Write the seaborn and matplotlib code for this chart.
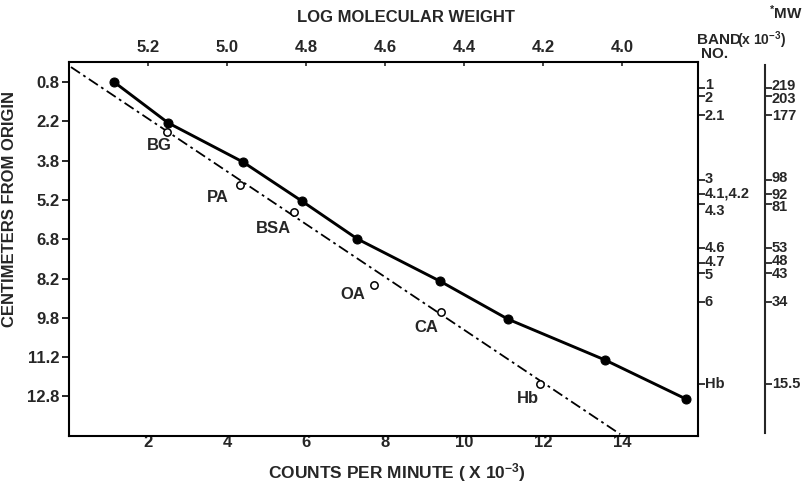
import matplotlib
matplotlib.use("Agg")
import matplotlib.pyplot as plt
import seaborn as sns
import pandas as pd

# ---------------- data ----------------
# filled points (solid line): counts per minute (x10^-3) vs cm from origin
cpm_filled = [1.14, 2.51, 4.40, 5.89, 7.30, 9.39, 11.11, 13.57, 15.62]
cm_filled = [0.80, 2.36, 3.85, 5.34, 6.79, 8.40, 9.85, 11.41, 12.90]

# open points (standards, dash-dot line)
std_names = ["BG", "PA", "BSA", "OA", "CA", "Hb"]
std_cpm = [2.47, 4.33, 5.70, 7.72, 9.42, 11.92]
std_cm = [2.71, 4.73, 5.76, 8.55, 9.58, 12.33]

# fitted standard line end points
fit_x = [0.05, 13.95]
fit_y = [0.23, 14.24]

# left axis ticks
cm_ticks = [0.8, 2.3, 3.8, 5.3, 6.8, 8.3, 9.8, 11.3, 12.8]
cm_labels = ["0.8", "2.2", "3.8", "5.2", "6.8", "8.2", "9.8", "11.2", "12.8"]

# bottom axis ticks
cpm_ticks = [2, 4, 6, 8, 10, 12, 14]

# top axis (log molecular weight)
logmw_ticks = [5.2, 5.0, 4.8, 4.6, 4.4, 4.2, 4.0]
logmw_labels = ["5.2", "5.0", "4.8", "4.6", "4.4", "4.2", "4.0"]

# right axes: band numbers and molecular weights
band_pos = [1.03, 1.33, 2.06, 4.54, 5.07, 5.45, 7.14, 7.71, 8.09, 9.20, 12.33]
band_labels = ["1", "2", "2.1", "3", "4.1,4.2", "4.3", "4.6", "4.7", "5", "6", "Hb"]
mw_labels = ["219", "203", "177", "98", "92", "81", "53", "48", "43", "34", "15.5"]

# ---------------- style ----------------
sns.set_style("white")
plt.rcParams["font.family"] = ["Liberation Sans", "DejaVu Sans"]
plt.rcParams["font.weight"] = "bold"
plt.rcParams["mathtext.fontset"] = "custom"
plt.rcParams["mathtext.rm"] = "Liberation Sans:bold"
plt.rcParams["mathtext.it"] = "Liberation Sans:bold"
plt.rcParams["mathtext.bf"] = "Liberation Sans:bold"

FS = 12
fig = plt.figure(figsize=(8.07, 4.83), dpi=100)
ax = fig.add_axes([0.0855, 0.0973, 0.7794, 0.7743])

df_f = pd.DataFrame({"x": cpm_filled, "y": cm_filled})
df_s = pd.DataFrame({"x": std_cpm, "y": std_cm, "name": std_names})
df_fit = pd.DataFrame({"x": fit_x, "y": fit_y})

sns.lineplot(data=df_fit, x="x", y="y", ax=ax, color="black", linewidth=1.3,
             sort=False, linestyle=(0, (6, 2.2, 1.5, 2.2)))
sns.lineplot(data=df_f, x="x", y="y", ax=ax, color="black", linewidth=2.1,
             sort=False, marker="o", markersize=6.5, markeredgecolor="black",
             markerfacecolor="black")
sns.scatterplot(data=df_s, x="x", y="y", ax=ax, s=28, facecolor="white",
                edgecolor="black", linewidth=1.1, zorder=5)

# labels for standards (offsets in points)
offsets = {"BG": (-5, -10), "PA": (-16, -9), "BSA": (-15, -12),
           "OA": (-15, -7), "CA": (-11, -11), "Hb": (-9, -10)}
for n, x, y in zip(std_names, std_cpm, std_cm):
    dx, dy = offsets[n]
    ax.annotate(n, (x, y), xytext=(dx, dy), textcoords="offset points",
                ha="center", va="center", fontsize=FS, fontweight="bold")

ax.set_xlim(0, 15.92)
ax.set_ylim(14.31, 0.037)
ax.set_xticks(cpm_ticks)
ax.set_xticklabels([str(t) for t in cpm_ticks], fontsize=FS, fontweight="bold")
ax.set_yticks(cm_ticks)
ax.set_yticklabels(cm_labels, fontsize=FS, fontweight="bold")
ax.tick_params(axis="x", length=0, pad=-1)
ax.tick_params(axis="y", direction="out", length=5, width=1.4, pad=2, left=True)
ax.set_xlabel(r"COUNTS PER MINUTE ( X 10$^{-3}$)", fontsize=12.5, fontweight="bold")
ax.xaxis.set_label_coords((397 - 69) / 629, -0.068)
ax.set_ylabel("CENTIMETERS FROM ORIGIN", fontsize=FS, fontweight="bold")
ax.yaxis.set_label_coords(-0.083, 0.607)
for s in ax.spines.values():
    s.set_visible(True)
    s.set_linewidth(1.5)
    s.set_color("black")

# top axis: log molecular weight
top = ax.secondary_xaxis("top", functions=(lambda x: 5.4 - x / 10.0,
                                           lambda m: (5.4 - m) * 10.0))
top.set_xticks(logmw_ticks)
top.set_xticklabels(logmw_labels, fontsize=FS, fontweight="bold")
top.tick_params(direction="in", length=3, width=1.2, pad=5)
top.spines["top"].set_visible(False)

# right axis: band number (tick marks; labels placed with small nudges)
band = ax.secondary_yaxis("right")
band.set_yticks(band_pos)
band.set_yticklabels([])
band.tick_params(direction="out", length=5, width=1.3)
band.spines["right"].set_visible(False)

# second right axis: molecular weight
mw_x = (765 - 69) / 629
mw = ax.secondary_yaxis(mw_x)
mw.set_yticks(band_pos)
mw.set_yticklabels([])
mw.tick_params(direction="out", length=5, width=1.3)
mw.spines["right"].set_linewidth(1.5)
mw.spines["right"].set_bounds(0.15, 14.2)

ytrans = ax.get_yaxis_transform()
band_nudge = [2.5, -1.5, -1, 0.5, 0, -5, 0, 0.5, -1.5, 0, 0]
mw_nudge = [1.5, -2, -0.5, 1.5, -0.5, -2.5, 0, 1.5, -1, 0, 0]
for p, lab, dy in zip(band_pos, band_labels, band_nudge):
    ax.annotate(lab, (1.0, p), xycoords=ytrans, xytext=(5, dy),
                textcoords="offset points", ha="left", va="center",
                fontsize=10.5, fontweight="bold", annotation_clip=False)
for p, lab, dy in zip(band_pos, mw_labels, mw_nudge):
    ax.annotate(lab, (mw_x, p), xycoords=ytrans, xytext=(5, dy),
                textcoords="offset points", ha="left", va="center",
                fontsize=10.5, fontweight="bold", annotation_clip=False)

fig.text(406 / 807, 1 - 17 / 483, "LOG MOLECULAR WEIGHT", ha="center",
         va="center", fontsize=FS, fontweight="bold")
fig.text(697 / 807, 1 - 40 / 483, "BAND", ha="left", va="center",
         fontsize=11, fontweight="bold")
fig.text(715 / 807, 1 - 54 / 483, "NO.", ha="center", va="center",
         fontsize=11, fontweight="bold")
fig.text(737 / 807, 1 - 40 / 483, r"(x 10$^{-3}$)", ha="left", va="center",
         fontsize=10, fontweight="bold")
fig.text(786 / 807, 1 - 13 / 483, r"$^{*}$MW", ha="center", va="center",
         fontsize=11, fontweight="bold")

fig.savefig("out.png", dpi=100)
